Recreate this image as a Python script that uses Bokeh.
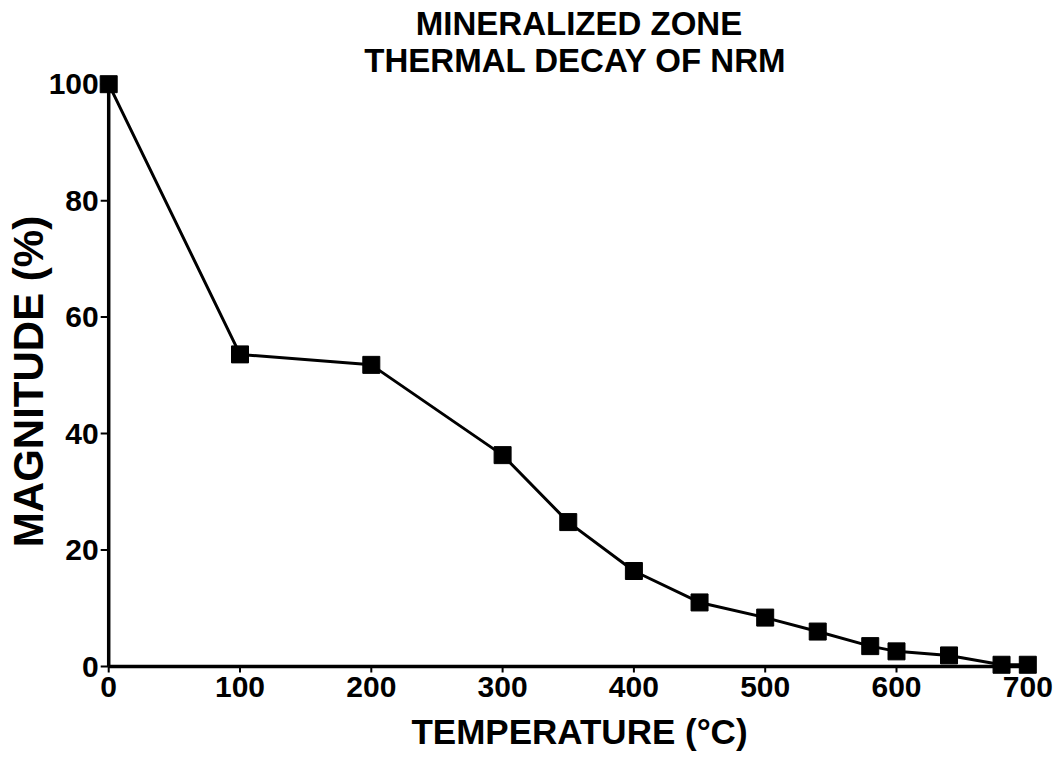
import math
from bokeh.plotting import figure
from bokeh.models import Range1d, ColumnDataSource
from bokeh.core.properties import value
from bokeh.embed import file_html
from bokeh.resources import INLINE

# ---- data ----
temperature = [0, 100, 200, 300, 350, 400, 450, 500, 540, 580, 600, 640, 680, 700]
magnitude = [100, 53.6, 51.8, 36.3, 24.8, 16.4, 11.0, 8.4, 6.0, 3.5, 2.6, 1.9, 0.3, 0.3]
x_ticks = [0, 100, 200, 300, 400, 500, 600, 700]
y_ticks = [0, 20, 40, 60, 80, 100]
x_tick_labels = [str(t) for t in x_ticks]
y_tick_labels = [str(t) for t in y_ticks]
title_lines = ["MINERALIZED ZONE", "THERMAL DECAY OF NRM"]
x_label = "TEMPERATURE (°C)"
y_label = "MAGNITUDE (%)"

FONT = value("Liberation Sans")

# pixel mapping: x=0 at 108 px, 1.313 px/unit ; y=0 at 666 px, 5.823 px/unit
W, H = 1061, 761
X0, SX = 108.2, 1.313
Y0, SY = 666.0, 5.823
p = figure(width=W, height=H,
           x_range=Range1d(-X0 / SX, (W - X0) / SX),
           y_range=Range1d(-(H - Y0) / SY, Y0 / SY),
           output_backend="svg", toolbar_location=None,
           x_axis_location=None, y_axis_location=None,
           min_border=0)
p.outline_line_color = None
p.xgrid.grid_line_color = None
p.ygrid.grid_line_color = None
p.background_fill_color = "white"
p.border_fill_color = "white"

# axis lines at data origin
p.segment(x0=[x_ticks[0], x_ticks[0]], y0=[y_ticks[0], y_ticks[0]],
          x1=[x_ticks[0], x_ticks[-1]], y1=[y_ticks[-1], y_ticks[0]],
          line_color="black", line_width=3.5)

# tick marks
p.ray(x=x_ticks, y=[y_ticks[0]] * len(x_ticks), length=6, length_units="screen",
      angle=-math.pi / 2, line_color="black", line_width=2)
p.ray(x=[x_ticks[0]] * len(y_ticks), y=y_ticks, length=8, length_units="screen",
      angle=math.pi, line_color="black", line_width=2)

# tick labels
p.text(x=x_ticks, y=[y_ticks[0]] * len(x_ticks), text=x_tick_labels,
       text_align="center", text_baseline="top", y_offset=10,
       text_font=FONT, text_font_style="bold", text_font_size="30px",
       text_color="black")
p.text(x=[x_ticks[0]] * len(y_ticks), y=y_ticks, text=y_tick_labels,
       text_align="right", text_baseline="middle", x_offset=-10,
       text_font=FONT, text_font_style="bold", text_font_size="30px",
       text_color="black")

# data
src = ColumnDataSource(dict(x=temperature, y=magnitude))
p.line("x", "y", source=src, line_color="black", line_width=3)
p.scatter("x", "y", source=src, marker="square", size=17,
          fill_color="black", line_color="black")

# titles and axis labels (positions from pixel targets)
def px2x(px):
    return (px - X0) / SX

def px2y(py):
    return (Y0 - py) / SY

p.text(x=[px2x(578.5), px2x(575)], y=[px2y(23), px2y(60)], text=title_lines,
       text_align="center", text_baseline="middle",
       text_font=FONT, text_font_style="bold", text_font_size="33px",
       text_color="black")
p.text(x=[px2x(579)], y=[px2y(731)], text=[x_label],
       text_align="center", text_baseline="middle",
       text_font=FONT, text_font_style="bold", text_font_size="35px",
       text_color="black")
p.text(x=[px2x(28)], y=[px2y(381)], text=[y_label], angle=math.pi / 2,
       text_align="center", text_baseline="middle",
       text_font=FONT, text_font_style="bold", text_font_size="42px",
       text_color="black")

open("out.html", "w").write(file_html(p, INLINE))
